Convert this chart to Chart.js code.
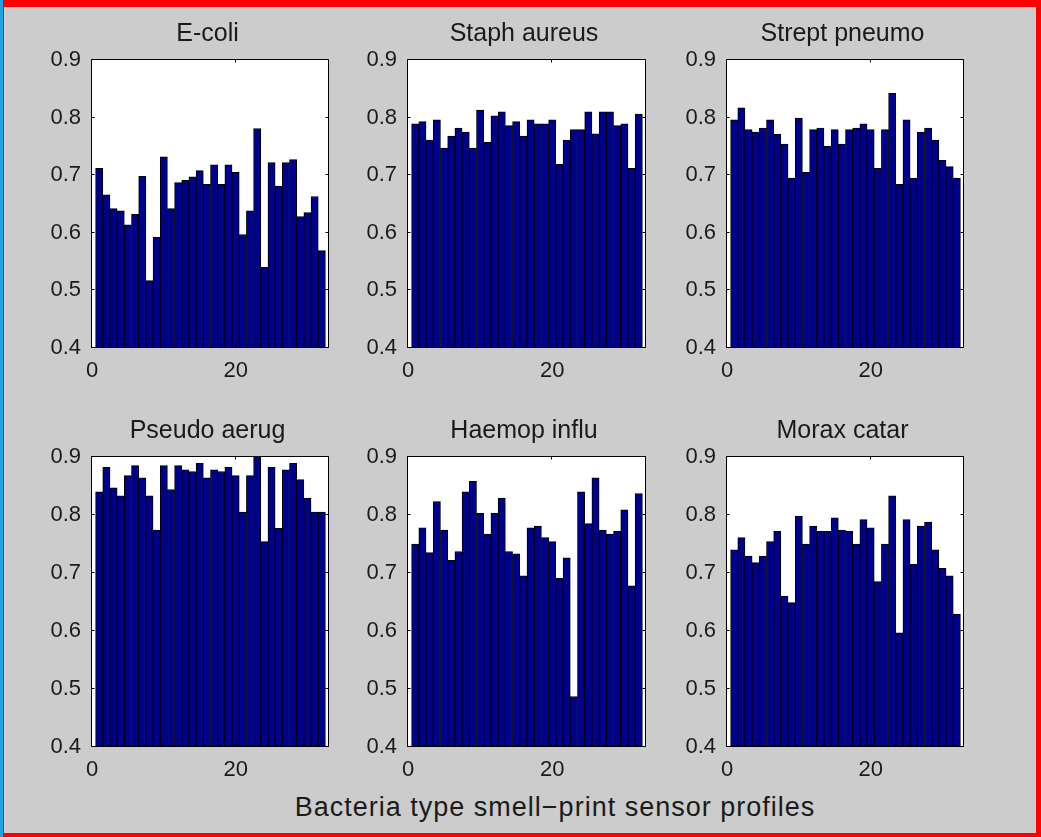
<!DOCTYPE html>
<html>
<head>
<meta charset="utf-8">
<script src="https://cdn.jsdelivr.net/npm/chart.js@4"></script>
<style>
  html, body { margin: 0; padding: 0; background: #cccccc; }
  #frame {
    position: absolute; left: 0; top: 0; width: 1041px; height: 837px;
    box-sizing: border-box; background: #cccccc;
    border-top: 7px solid #ff0000; border-right: 5px solid #ff0000;
    border-bottom: 4px solid #ff0000; border-left: 4px solid #ff0000;
  }
  #edge { position: absolute; left: 0; top: 0; width: 3px; height: 837px; background: #1fa3e0; }
  canvas { position: absolute; }
  #xlabel {
    position: absolute; left: 40px; width: 1030px; top: 792px; text-align: center;
    font: 27px "Liberation Sans", Arial, sans-serif; letter-spacing: 1px; color: #1a1a1a;
  }
</style>
</head>
<body>
<div id="frame"></div>
<div id="edge"></div>
<div id="xlabel">Bacteria type smell−print sensor profiles</div>
<script>
// Sensor channel numbers (x) and the mean response of each bacteria type
const sensors = [1, 2, 3, 4, 5, 6, 7, 8, 9, 10, 11, 12, 13, 14, 15, 16,
                 17, 18, 19, 20, 21, 22, 23, 24, 25, 26, 27, 28, 29, 30, 31, 32];

const eColi = [0.712, 0.666, 0.642, 0.638, 0.614, 0.632, 0.698, 0.517,
               0.592, 0.732, 0.642, 0.687, 0.691, 0.697, 0.708, 0.684,
               0.718, 0.684, 0.718, 0.705, 0.597, 0.638, 0.781, 0.540,
               0.722, 0.681, 0.722, 0.727, 0.628, 0.635, 0.663, 0.569];

const staphAureus = [0.789, 0.793, 0.761, 0.796, 0.747, 0.768, 0.782, 0.775,
                     0.747, 0.813, 0.757, 0.803, 0.810, 0.786, 0.793, 0.768,
                     0.796, 0.789, 0.789, 0.796, 0.719, 0.761, 0.779, 0.779,
                     0.810, 0.772, 0.810, 0.810, 0.786, 0.789, 0.712, 0.806];

const streptPneumo = [0.796, 0.817, 0.779, 0.775, 0.782, 0.796, 0.771, 0.754,
                      0.695, 0.799, 0.705, 0.779, 0.782, 0.750, 0.779, 0.754,
                      0.779, 0.782, 0.789, 0.779, 0.712, 0.779, 0.842, 0.684,
                      0.796, 0.695, 0.775, 0.782, 0.761, 0.726, 0.715, 0.695];

const pseudoAerug = [0.840, 0.882, 0.847, 0.833, 0.868, 0.885, 0.864, 0.833,
                     0.774, 0.885, 0.844, 0.885, 0.878, 0.875, 0.889, 0.864,
                     0.878, 0.875, 0.882, 0.868, 0.805, 0.868, 0.902, 0.754,
                     0.882, 0.777, 0.878, 0.889, 0.861, 0.829, 0.805, 0.805];

const haemopInflu = [0.750, 0.778, 0.735, 0.823, 0.774, 0.722, 0.737, 0.840,
                     0.858, 0.803, 0.767, 0.803, 0.829, 0.737, 0.733, 0.695,
                     0.778, 0.781, 0.761, 0.754, 0.691, 0.726, 0.487, 0.840,
                     0.785, 0.864, 0.774, 0.767, 0.772, 0.809, 0.678, 0.837];

const moraxCatar = [0.740, 0.761, 0.729, 0.718, 0.729, 0.754, 0.772, 0.660,
                    0.649, 0.798, 0.750, 0.781, 0.772, 0.772, 0.795, 0.774,
                    0.772, 0.750, 0.792, 0.778, 0.685, 0.750, 0.833, 0.597,
                    0.792, 0.715, 0.781, 0.788, 0.740, 0.708, 0.695, 0.629];

const panelTitles = ['E-coli', 'Staph aureus', 'Strept pneumo',
                     'Pseudo aerug', 'Haemop influ', 'Morax catar'];
const panelSeries = [eColi, staphAureus, streptPneumo, pseudoAerug, haemopInflu, moraxCatar];

const xTicks = [0, 20];
const yTicks = [0.4, 0.5, 0.6, 0.7, 0.8, 0.9];
const xRange = [0, 33];
const yRange = [0.4, 0.9];

// Page geometry of the 2x3 grid of axes boxes
const colLeft = [92, 408, 727];
const colRight = [329, 646, 964];
const rowTop = [60, 457];
const rowBottom = [348, 747];
const Y_AXIS_W = 52, TITLE_H = 50, X_AXIS_H = 45, PAD_R = 12;

const FONT = '"Liberation Sans", Arial, sans-serif';
const INK = '#1a1a1a';

// White plot box, black frame, inward tick marks and the panel title
const boxPlugin = {
  id: 'box',
  beforeDraw(chart) {
    const a = chart.chartArea, ctx = chart.ctx;
    ctx.save();
    ctx.fillStyle = '#ffffff';
    ctx.fillRect(a.left, a.top, a.right - a.left, a.bottom - a.top);
    ctx.restore();
  },
  afterDatasetsDraw(chart, args, opts) {
    const a = chart.chartArea, ctx = chart.ctx;
    const xs = chart.scales.x, ys = chart.scales.y;
    const L = Math.round(a.left) - 0.5, R = Math.round(a.right) - 0.5;
    const T = Math.round(a.top) - 0.5, B = Math.round(a.bottom) - 0.5;
    const tl = 3;
    ctx.save();
    ctx.strokeStyle = '#000000';
    ctx.lineWidth = 1;
    ctx.beginPath();
    ctx.rect(L, T, R - L, B - T);
    ys.ticks.forEach(t => {
      const y = Math.round(ys.getPixelForValue(t.value)) - 0.5;
      ctx.moveTo(L, y); ctx.lineTo(L + tl, y);
      ctx.moveTo(R, y); ctx.lineTo(R - tl, y);
    });
    xs.ticks.forEach(t => {
      const x = Math.round(xs.getPixelForValue(t.value)) - 0.5;
      ctx.moveTo(x, T); ctx.lineTo(x, T + tl);
      ctx.moveTo(x, B); ctx.lineTo(x, B - tl);
    });
    ctx.stroke();
    ctx.fillStyle = INK;
    ctx.font = '25px ' + FONT;
    ctx.textAlign = 'center';
    ctx.textBaseline = 'alphabetic';
    ctx.fillText(opts.text, (a.left + a.right) / 2 - 3, a.top - 19);
    ctx.restore();
  }
};

panelSeries.forEach((values, i) => {
  const col = i % 3, row = Math.floor(i / 3);
  const w = colRight[col] - colLeft[col] + Y_AXIS_W + PAD_R;
  const h = rowBottom[row] - rowTop[row] + TITLE_H + X_AXIS_H;
  const cv = document.createElement('canvas');
  cv.width = w; cv.height = h;
  cv.style.left = (colLeft[col] - Y_AXIS_W) + 'px';
  cv.style.top = (rowTop[row] - TITLE_H) + 'px';
  cv.style.width = w + 'px'; cv.style.height = h + 'px';
  document.body.appendChild(cv);

  new Chart(cv, {
    type: 'bar',
    data: {
      datasets: [{
        data: sensors.map((s, k) => ({ x: s, y: values[k] })),
        backgroundColor: '#00008f',
        borderColor: '#000000',
        borderWidth: 1,
        barPercentage: 1,
        categoryPercentage: 1
      }]
    },
    options: {
      responsive: false,
      animation: false,
      devicePixelRatio: 1,
      layout: { padding: { top: TITLE_H, right: PAD_R, left: 0, bottom: 0 } },
      plugins: {
        legend: { display: false },
        tooltip: { enabled: false },
        box: { text: panelTitles[i] }
      },
      scales: {
        x: {
          type: 'linear',
          offset: false,
          min: xRange[0], max: xRange[1],
          grid: { display: false, drawTicks: false, offset: false },
          border: { display: false },
          afterBuildTicks: s => { s.ticks = xTicks.map(v => ({ value: v })); },
          afterFit: s => { s.height = X_AXIS_H; },
          ticks: {
            maxRotation: 0, autoSkip: false, padding: 10,
            color: INK, font: { family: FONT, size: 22 },
            callback: v => String(v)
          }
        },
        y: {
          min: yRange[0], max: yRange[1],
          grid: { display: false, drawTicks: false },
          border: { display: false },
          afterBuildTicks: s => { s.ticks = yTicks.map(v => ({ value: v })); },
          afterFit: s => { s.width = Y_AXIS_W; },
          ticks: {
            padding: 11, autoSkip: false,
            color: INK, font: { family: FONT, size: 22 },
            callback: v => Number(v).toFixed(1)
          }
        }
      }
    },
    plugins: [boxPlugin]
  });
});
</script>
</body>
</html>
